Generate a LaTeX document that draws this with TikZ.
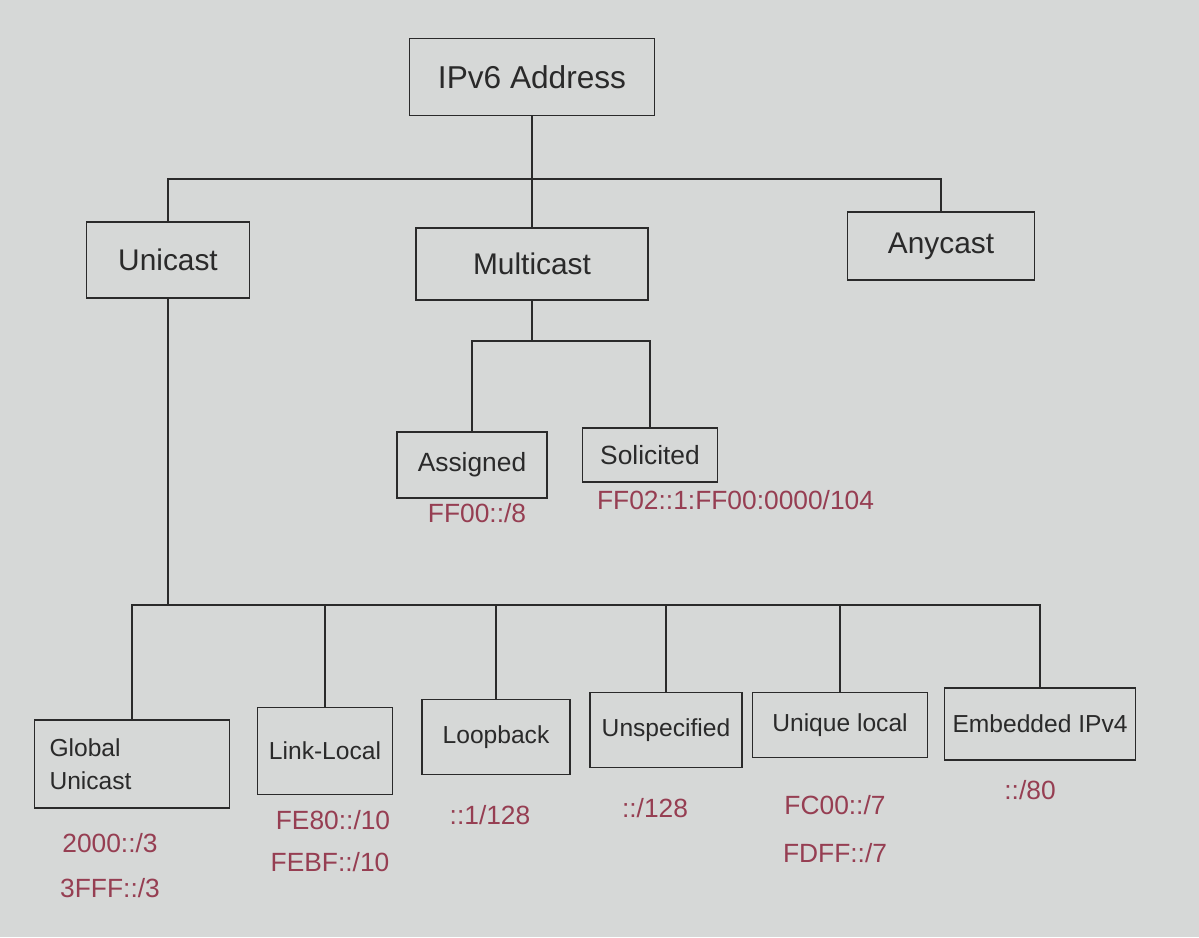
\documentclass[tikz,border=0pt]{standalone}
\usepackage{fontspec}
\setmainfont{Liberation Sans}
\usetikzlibrary{positioning}
\definecolor{paper}{RGB}{214,216,215}
\definecolor{ink}{RGB}{42,42,42}
\definecolor{pen}{RGB}{150,62,82}

\begin{document}
\begin{tikzpicture}[x=0.02cm,y=-0.02cm,
    addrbox/.style={draw=ink,line width=1pt,text=ink,font=\fontsize{15}{18}\selectfont},
    leafbox/.style={addrbox,font=\fontsize{14}{19}\selectfont},
    pfxlabel/.style={text=pen,font=\fontsize{15}{18}\selectfont,inner sep=1pt},
    link/.style={draw=ink,line width=1pt}]
    \fill[paper] (0,0) rectangle (1199,937);

    % top level
    \node[addrbox,font=\fontsize{18}{21}\selectfont,minimum width=4.9cm,minimum height=1.54cm] (ipv6) at (532,77) {IPv6 Address};
    \node[addrbox,font=\fontsize{17}{20}\selectfont,minimum width=3.26cm,minimum height=1.52cm] (unicast) at (168,260) {Unicast};
    \node[addrbox,font=\fontsize{17}{20}\selectfont,minimum width=4.64cm,minimum height=1.44cm] (multicast) at (532,264) {Multicast};
    \node[addrbox,font=\fontsize{17}{20}\selectfont,minimum width=3.74cm,minimum height=1.36cm] (anycast) at (941,246) {Anycast};

    % multicast kinds
    \node[addrbox,minimum width=3cm,minimum height=1.32cm] (assigned) at (472,465) {Assigned};
    \node[addrbox,minimum width=2.7cm,minimum height=1.08cm] (solicited) at (650,455) {Solicited};

    % unicast kinds
    \node[leafbox,align=left,text width=3.3cm,minimum width=3.9cm,minimum height=1.76cm] (global) at (132,764) {Global\\Unicast};
    \node[leafbox,minimum width=2.7cm,minimum height=1.74cm] (linklocal) at (325,751) {Link-Local};
    \node[leafbox,minimum width=2.96cm,minimum height=1.5cm] (loopback) at (496,737) {Loopback};
    \node[leafbox,minimum width=3.04cm,minimum height=1.5cm] (unspecified) at (666,730) {Unspecified};
    \node[leafbox,minimum width=3.5cm,minimum height=1.3cm] (uniquelocal) at (840,725) {Unique local};
    \node[leafbox,minimum width=3.82cm,minimum height=1.44cm] (embedded) at (1040,724) {Embedded IPv4};

    % prefixes
    \node[pfxlabel] (assignedpfx) at (477,513) {FF00::/8};
    \node[pfxlabel,anchor=west] (solicitedpfx) at (595,500) {FF02::1:FF00:0000/104};
    \node[pfxlabel] (globalpfxa) at (110,843) {2000::/3};
    \node[pfxlabel] (globalpfxb) at (110,888) {3FFF::/3};
    \node[pfxlabel] (linkpfxa) at (333,820) {FE80::/10};
    \node[pfxlabel] (linkpfxb) at (330,862) {FEBF::/10};
    \node[pfxlabel] (looppfx) at (490,815) {::1/128};
    \node[pfxlabel] (unspecpfx) at (655,808) {::/128};
    \node[pfxlabel] (uniquepfxa) at (835,805) {FC00::/7};
    \node[pfxlabel] (uniquepfxb) at (835,853) {FDFF::/7};
    \node[pfxlabel] (embeddedpfx) at (1030,790) {::/80};

    % tree lines
    \draw[link] (ipv6.south) -- ++(0,63) coordinate (hub1);
    \draw[link] (unicast.north) |- (hub1) -| (anycast.north);
    \draw[link] (hub1) -- (multicast.north);

    \draw[link] (multicast.south) -- ++(0,40) coordinate (hub2);
    \draw[link] (assigned.north) |- (hub2) -| (solicited.north);

    \draw[link] (unicast.south) -- (unicast.south |- 0,605) coordinate (hub3);
    \draw[link] (global.north) |- (hub3) -| (embedded.north);
    \foreach \kind in {linklocal,loopback,unspecified,uniquelocal}
      \draw[link] (\kind.north) -- (\kind.north |- hub3);
\end{tikzpicture}
\end{document}
